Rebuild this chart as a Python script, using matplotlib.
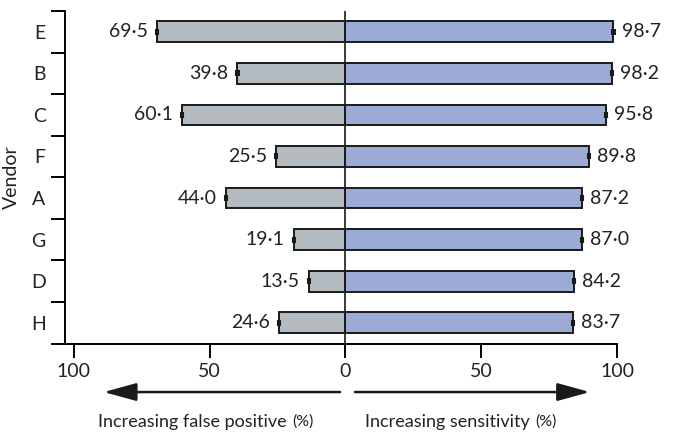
import matplotlib
matplotlib.use('Agg')
import matplotlib.pyplot as plt
import numpy as np

plt.rcParams['font.family'] = ['Lato', 'DejaVu Sans']

vendors = ['E', 'B', 'C', 'F', 'A', 'G', 'D', 'H']
sensitivity = [98.7, 98.2, 95.8, 89.8, 87.2, 87.0, 84.2, 83.7]
false_positive = [69.5, 39.8, 60.1, 25.5, 44.0, 19.1, 13.5, 24.6]
sens_err = [0.4, 0.4, 0.4, 0.4, 0.4, 0.4, 0.4, 0.4]
fp_err = [0.4, 0.4, 0.4, 0.4, 0.4, 0.4, 0.4, 0.4]

gray = '#b5bcc1'
blue = '#9cabd6'
fs = 14
txt = '#222222'

fig = plt.figure(figsize=(6.74, 4.42), dpi=100)
ax = fig.add_axes([65 / 674, 1 - 343.5 / 442, 552 / 674, 332.5 / 442])

y = np.arange(len(vendors))[::-1]
fp_neg = [-v for v in false_positive]

ax.barh(y, fp_neg, height=0.5, color=gray, edgecolor='#1a1a1a', linewidth=1.4, zorder=2)
ax.barh(y, sensitivity, height=0.5, color=blue, edgecolor='#1a1a1a', linewidth=1.4, zorder=2)
ax.errorbar(fp_neg, y, xerr=fp_err, fmt='none', ecolor='#1a1a1a', elinewidth=1.5,
            capsize=2.5, capthick=1.5, zorder=3)
ax.errorbar(sensitivity, y, xerr=sens_err, fmt='none', ecolor='#1a1a1a', elinewidth=1.5,
            capsize=2.5, capthick=1.5, zorder=3)
ax.axvline(0, color='#1a1a1a', linewidth=1.2, zorder=4)

for yi, v in zip(y, false_positive):
    ax.text(-v - 3.3, yi, f'{v:.1f}'.replace('.', '\u00b7'), ha='right', va='center',
            fontsize=fs, color=txt)
for yi, v in zip(y, sensitivity):
    ax.text(v + 3.0, yi, f'{v:.1f}'.replace('.', '\u00b7'), ha='left', va='center',
            fontsize=fs, color=txt)

ax.set_xlim(-103.3, 100)
ax.set_ylim(-0.5, len(vendors) - 0.5)

ax.set_xticks([-100, -50, 0, 50, 100])
ax.set_xticklabels(['100', '50', '0', '50', '100'], fontsize=fs, color=txt)
ax.set_yticks(np.arange(-0.5, len(vendors), 1.0))
ax.set_yticklabels([])
ax.set_yticks(y, minor=True)
ax.set_yticklabels(vendors, minor=True, fontsize=fs, color=txt)
ax.tick_params(axis='y', which='major', length=10, width=1.4, direction='out')
ax.tick_params(axis='y', which='minor', length=0, pad=14)
ax.tick_params(axis='x', length=10, width=1.4, direction='out', pad=4)

for s in ['top', 'right']:
    ax.spines[s].set_visible(False)
for s in ['left', 'bottom']:
    ax.spines[s].set_linewidth(1.4)

ax.set_ylabel('Vendor', fontsize=fs, color=txt, labelpad=8)

tr = ax.get_xaxis_transform()
arrow = dict(arrowstyle='-|>,head_length=2.0,head_width=0.55',
             color='#1a1a1a', lw=1.8, shrinkA=0, shrinkB=0)
ax.annotate('', xy=(-89, -0.146), xytext=(-2, -0.146), xycoords=tr, textcoords=tr,
            arrowprops=arrow, annotation_clip=False)
ax.annotate('', xy=(90, -0.146), xytext=(3.5, -0.146), xycoords=tr, textcoords=tr,
            arrowprops=arrow, annotation_clip=False)

# axis captions, the (%) part is set a little smaller and follows the words
cy = -0.235
t1 = ax.text(-91.2, cy, 'Increasing false positive', transform=tr, ha='left',
             va='center', fontsize=fs - 1, color=txt)
ax.annotate('(%)', xy=(1, 0.5), xycoords=t1, xytext=(4, 0), textcoords='offset points',
            ha='left', va='center', fontsize=fs - 2.5, color=txt)
t2 = ax.text(7.2, cy, 'Increasing sensitivity', transform=tr, ha='left',
             va='center', fontsize=fs - 1, color=txt)
ax.annotate('(%)', xy=(1, 0.5), xycoords=t2, xytext=(4, 0), textcoords='offset points',
            ha='left', va='center', fontsize=fs - 2.5, color=txt)

plt.savefig('out.png', dpi=100)
